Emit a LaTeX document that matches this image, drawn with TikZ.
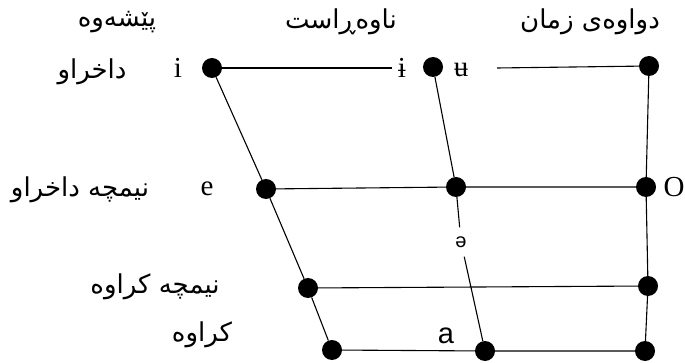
\documentclass[tikz,border=0pt]{standalone}
\usepackage{fontspec}
\setmainfont{Liberation Serif}
\newfontfamily\arabicfont[Script=Arabic]{DejaVu Sans}
\newfontfamily\sansfont{Liberation Sans}
\TeXXeTstate=1
\begin{document}
\begin{tikzpicture}[x=1pt,y=-1pt,
  dot/.style={circle,fill=black,inner sep=0pt,minimum size=20pt},
  ar/.style={font=\arabicfont\fontsize{26}{29}\selectfont,inner sep=1pt},
  ipa/.style={font=\fontsize{29}{32}\selectfont,inner sep=1pt},
  ipas/.style={font=\sansfont\fontsize{20}{22}\selectfont,inner sep=1pt},
  ln/.style={line width=1.1pt,black}]
\useasboundingbox (0,0) rectangle (685,363);
% dots
\node[dot] (i)   at (212,68) {};
\node[dot] (c1)  at (433,67) {};
\node[dot] (tr)  at (649,66) {};
\node[dot] (e)   at (266,189) {};
\node[dot] (c2)  at (456,187) {};
\node[dot] (od)  at (646,187) {};
\node[dot] (so1) at (308,288) {};
\node[dot] (so3) at (648,286) {};
\node[dot] (o1)  at (332,350) {};
\node[dot] (c3)  at (485,351) {};
\node[dot] (o3)  at (645,351) {};
% header labels
\node[ar] (front) at (117,22) {\beginR پێشەوە\endR};
\node[ar] (cent)  at (341,22) {\beginR ناوەڕاست\endR};
\node[ar] (back)  at (590,22) {\beginR دواوەی زمان\endR};
% height labels
\node[ar] (close) at (92,72) {\beginR داخراو\endR};
\node[ar] (hclose) at (80,190) {\beginR نیمچە داخراو\endR};
\node[ar] (hopen) at (155,287) {\beginR نیمچە کراوە\endR};
\node[ar] (open)  at (202,335) {\beginR کراوە\endR};
% vowel symbols
\node[ipa] (li) at (178,68) {i};
\node[ipa,inner sep=6pt] (ibar) at (402,68) {ɨ};
\node[ipa] (ubar) at (461,70) {ʉ};
\node[ipa] (le) at (207,189) {e};
\node[ipa] (lo) at (674,187) {O};
\node[ipas,inner sep=9pt] (schwa) at (461,242) {ə};
\node[font=\sansfont\fontsize{29}{32}\selectfont,inner sep=1pt] (la) at (446,336) {a};
\coordinate (tstart) at (497,68);
% connectors
\draw[ln] (i) -- (ibar);
\draw[ln] (tstart) -- (tr);
\draw[ln] (i) -- (e) -- (so1) -- (o1);
\draw[ln] (c1) -- (c2) -- (schwa) -- (c3);
\draw[ln] (tr) -- (od) -- (so3) -- (o3);
\draw[ln] (e) -- (c2) -- (od);
\draw[ln] (so1) -- (so3);
\draw[ln] (o1) -- (c3) -- (o3);
\end{tikzpicture}
\end{document}
